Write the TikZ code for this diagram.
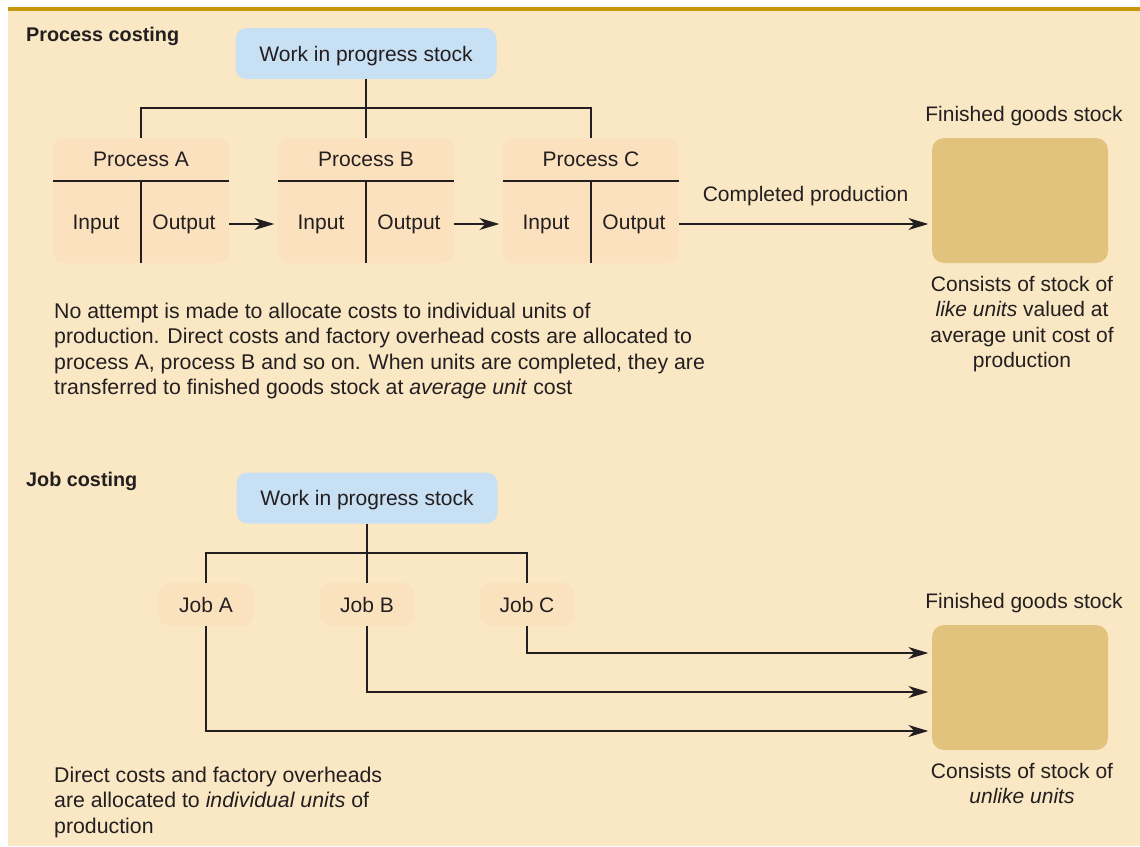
\documentclass[tikz,border=0pt]{standalone}
\usepackage{fontspec}
\setmainfont{Liberation Sans}
\usetikzlibrary{arrows.meta,calc}
\definecolor{bgbeige}{HTML}{FAE7C4}
\definecolor{goldline}{HTML}{C8960A}
\definecolor{wipblue}{HTML}{C8E0F4}
\definecolor{procpeach}{HTML}{FBE1BE}
\definecolor{jobpeach}{HTML}{FBE2BF}
\definecolor{fgbox}{HTML}{E2C37E}
\definecolor{ink}{HTML}{231F20}
\begin{document}
\begin{tikzpicture}[x=1pt,y=-1pt,
  txt/.style={font=\fontsize{21}{25.3}\selectfont, text=ink, inner sep=0pt},
  ptxt/.style={font=\fontsize{21.3}{25.3}\selectfont, text=ink, inner sep=0pt},
  head/.style={font=\fontsize{19.8}{22}\selectfont\bfseries, text=ink, inner sep=0pt, anchor=west},
  wipbox/.style={fill=wipblue, rounded corners=11pt, minimum width=261pt, minimum height=51pt, txt, text depth=0pt},
  procbox/.style={fill=procpeach, rounded corners=11pt, minimum width=176pt, minimum height=125pt, inner sep=0pt},
  jobbox/.style={fill=jobpeach, rounded corners=11pt, minimum width=95pt, minimum height=43pt, txt},
  fgstock/.style={fill=fgbox, rounded corners=12pt, minimum width=176pt, minimum height=125pt, inner sep=0pt},
  ln/.style={draw=ink, line width=1.2pt},
  arr/.style={ln, shorten >=3.5pt, -{Stealth[length=20pt,width=12pt,inset=6pt]}},
]
\useasboundingbox (0,0) rectangle (1140,846);
\fill[white] (0,0) rectangle (1140,846);
\fill[bgbeige] (8,7) rectangle (1140,846);
\fill[goldline] (8,7) rectangle (1140,11);

% ---------- Process costing ----------
\node[head] (h1) at (26,36) {Process costing};
\node[wipbox] (wip1) at (366,53.5) {Work in progress stock};
\coordinate (hub1) at (366,108);

\node[procbox] (pa) at (141,200.5) {};
\node[procbox] (pb) at (366,200.5) {};
\node[procbox] (pc) at (591,200.5) {};

\foreach \p/\x/\l in {pa/141/A, pb/366/B, pc/591/C}{
  \node[txt] (\p t) at (\x,159) {Process \l};
  \node[txt] (\p i) at (\x-45,224) {Input};
  \node[txt] (\p o) at (\x+43,224) {Output};
  \draw[ln] (\p.west |- 0,181) -- (\p.east |- 0,181);
  \draw[ln] (\x,181) -- (\p.south);
}

\draw[ln] (wip1.south) -- (hub1);
\draw[ln] (pa.north) |- (hub1) -| (pc.north);
\draw[ln] (hub1) -- (pb.north);

\node[fgstock] (fg1) at (1020,200.5) {};
\node[txt] (fg1t) at (1024,116) {Finished goods stock};
\node[txt, align=center, anchor=north] (fg1d) at (1022,276)
  {Consists of stock of\\\textit{like units} valued at\\average unit cost of\\production};

\draw[arr] (pa.east |- 0,224) -- (pb.west |- 0,224);
\draw[arr] (pb.east |- 0,224) -- (pc.west |- 0,224);
\draw[arr] (pc.east |- 0,224) -- (fg1.west |- 0,224)
  node[txt, midway, above=18pt] (cp) {Completed production};

\node[ptxt, align=left, anchor=north west] (para1) at (54,303)
  {No attempt is made to allocate costs to individual units of\\
   production. Direct costs and factory overhead costs are allocated to\\
   process A, process B and so on. When units are completed, they are\\
   transferred to finished goods stock at \textit{average unit} cost};

% ---------- Job costing ----------
\node[head] (h2) at (26,481) {Job costing};
\node[wipbox] (wip2) at (367,498) {Work in progress stock};
\coordinate (hub2) at (367,553);

\node[jobbox] (ja) at (206,604.5) {Job A};
\node[jobbox] (jb) at (367,604.5) {Job B};
\node[jobbox] (jc) at (527,604.5) {Job C};

\draw[ln] (wip2.south) -- (hub2);
\draw[ln] (ja.north) |- (hub2) -| (jc.north);
\draw[ln] (hub2) -- (jb.north);

\node[fgstock] (fg2) at (1020,687.5) {};
\node[txt] (fg2t) at (1024,603) {Finished goods stock};
\node[txt, align=center, anchor=north] (fg2d) at (1022,763)
  {Consists of stock of\\\textit{unlike units}};

\draw[arr] (jc.south) |- (fg2.west |- 0,653);
\draw[arr] (jb.south) |- (fg2.west |- 0,692);
\draw[arr] (ja.south) |- (fg2.west |- 0,731);

\node[ptxt, align=left, anchor=north west] (para2) at (54,767)
  {Direct costs and factory overheads\\
   are allocated to \textit{individual units} of\\
   production};
\end{tikzpicture}
\end{document}
